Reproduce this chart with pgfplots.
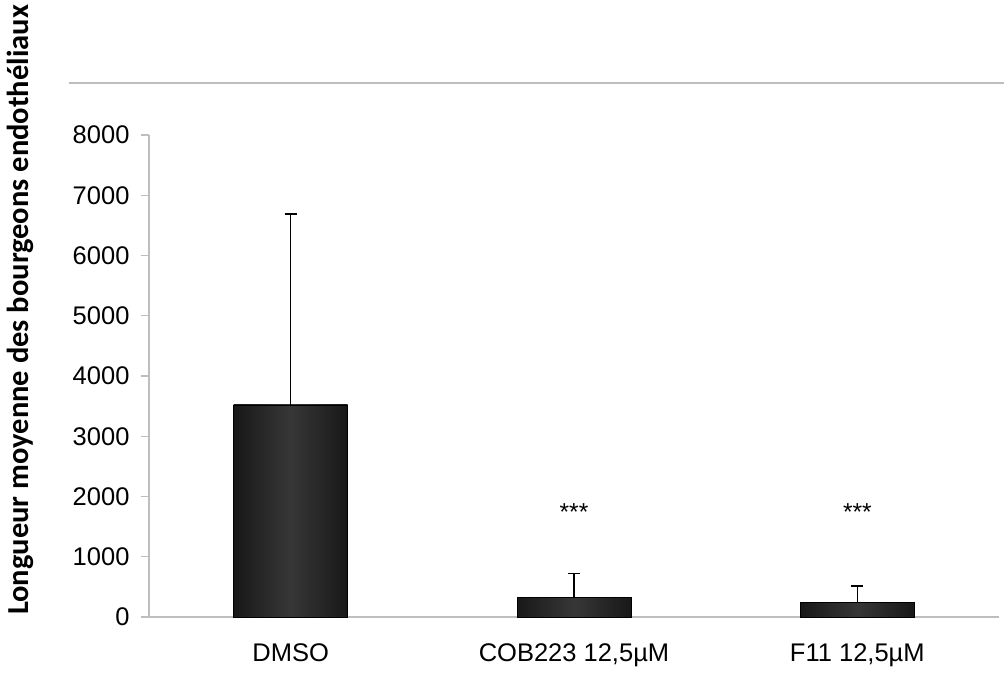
\documentclass[border=0pt]{standalone}
\usepackage{pgfplots}
\pgfplotsset{compat=1.18}
\usepackage{fontspec}
\setmainfont{Liberation Sans}
\newfontfamily\calibri{Carlito}
\definecolor{axisgray}{RGB}{190,190,190}
\definecolor{barA}{RGB}{24,24,24}
\definecolor{barB}{RGB}{55,55,55}
\begin{document}
\begin{tikzpicture}
\useasboundingbox (-149bp,-58bp) rectangle (855bp,617bp);
\draw[axisgray, line width=1.2bp] (-80bp,534bp) -- (855bp,534bp);
\begin{axis}[
  at={(0,0)}, anchor=south west,
  scale only axis, width=850bp, height=482bp,
  xmin=-0.5, xmax=2.5, ymin=0, ymax=8000,
  axis x line*=bottom, axis y line*=left,
  axis line style={axisgray, line width=1.2bp},
  xtick={0,1,2},
  xticklabels={DMSO, COB223 12{,}5µM, F11 12{,}5µM},
  extra x ticks={-0.5,0.5,1.5,2.5},
  extra x tick labels={},
  extra x tick style={major tick length=8bp, tick style={axisgray, line width=1.2bp}},
  major x tick style={draw=none},
  ytick={0,1000,...,8000},
  tick align=outside,
  major tick length=8bp,
  tick style={axisgray, line width=1.2bp},
  /pgf/number format/assume math mode=true,
  scaled y ticks=false,
  yticklabel style={/pgf/number format/1000 sep={}},
  tick label style={font=\fontsize{25.5bp}{30bp}\selectfont, text=black},
  yticklabel style={xshift=-8bp},
  xticklabel style={yshift=-15bp},
  ylabel={Longueur moyenne des bourgeons endothéliaux},
  every axis y label/.style={at={(rel axis cs:-0.151,0.637)}, rotate=90, anchor=center,
     font=\calibri\bfseries\fontsize{30.5bp}{36bp}\selectfont},
  clip=false,
  bar style/.style={ybar, bar width=114bp, draw=black, line width=0.8bp,
    left color=barA, right color=barA, middle color=barB,
    error bars/.cd, y dir=plus, y explicit,
    error bar style={black, line width=1.3bp},
    error mark options={black, rotate=90, mark size=6bp, line width=1.3bp}},
]
\addplot[bar style] coordinates {(0,3520) +- (0,3170)};
\addplot[bar style] coordinates {(1,320) +- (0,400)};
\addplot[bar style] coordinates {(2,237) +- (0,280)};
\node[font=\fontsize{24.5bp}{28bp}\selectfont] at (axis cs:1,1740) {***};
\node[font=\fontsize{24.5bp}{28bp}\selectfont] at (axis cs:2,1740) {***};
\end{axis}
\end{tikzpicture}
\end{document}
